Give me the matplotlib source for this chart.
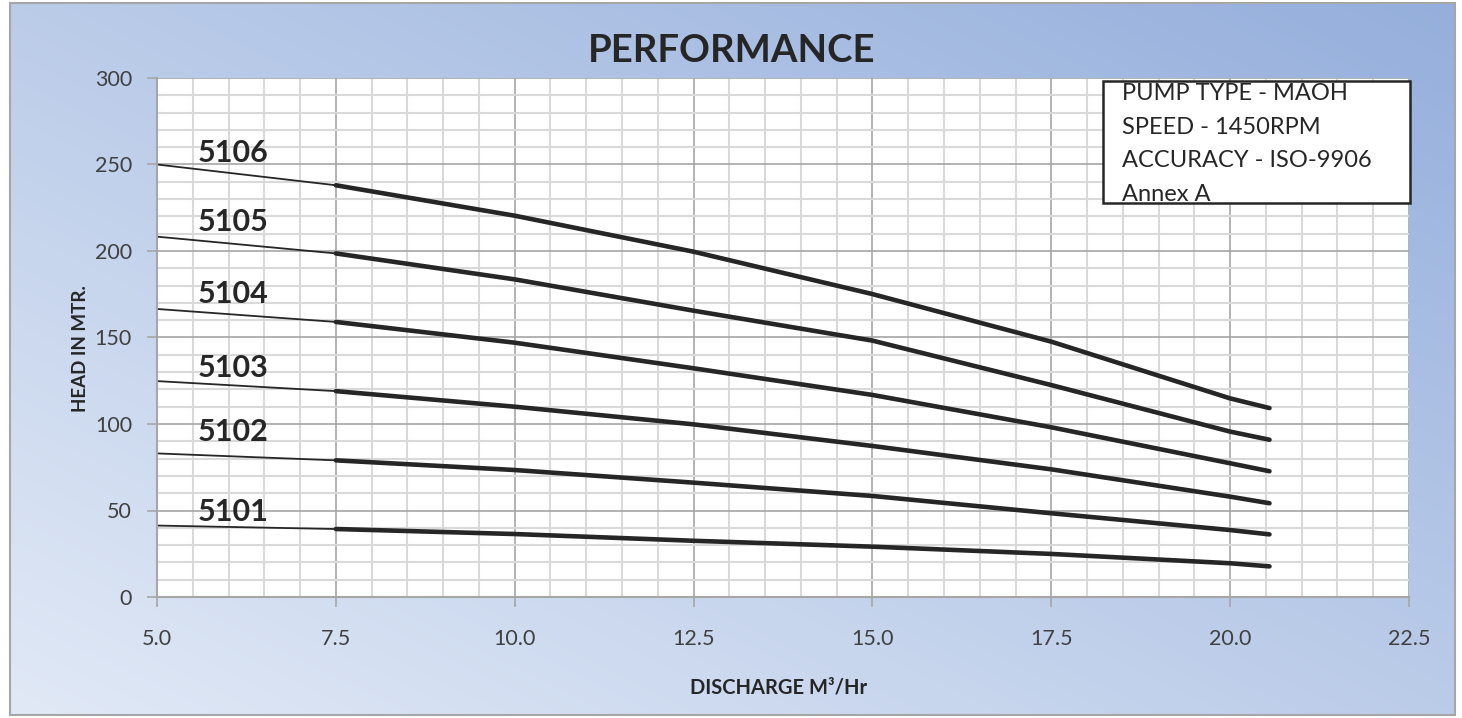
import numpy as np
import matplotlib
matplotlib.use('Agg')
import matplotlib.pyplot as plt
from matplotlib.patches import Rectangle
from matplotlib.ticker import MultipleLocator, FormatStrFormatter

plt.rcParams['font.family'] = ['Lato', 'DejaVu Sans']

# Data
discharge = [5.0, 7.5, 10.0, 12.5, 15.0, 17.5, 20.0, 20.55]
models = ['5101', '5102', '5103', '5104', '5105', '5106']
heads = {
    '5101': [41.3, 39.3, 36.4, 32.5, 29.1, 24.9, 19.5, 17.7],
    '5102': [83.0, 79.0, 73.4, 66.1, 58.4, 48.4, 38.7, 36.2],
    '5103': [124.8, 119.0, 110.0, 99.8, 87.3, 73.8, 58.0, 54.2],
    '5104': [166.5, 159.0, 147.0, 132.2, 116.8, 98.1, 77.3, 72.7],
    '5105': [208.3, 198.6, 183.6, 165.5, 148.2, 122.5, 95.6, 90.9],
    '5106': [250.0, 238.0, 220.4, 199.6, 175.1, 147.6, 114.8, 109.2],
}
label_x = 5.57
label_y = {'5101': 49.3, '5102': 95.4, '5103': 132.2, '5104': 175.1, '5105': 216.5, '5106': 256.9}
info_lines = ['PUMP TYPE - MAOH', 'SPEED - 1450RPM', 'ACCURACY - ISO-9906', 'Annex A']

W, H = 1462, 718
fig = plt.figure(figsize=(W / 100, H / 100), dpi=100)
fig.patch.set_facecolor('white')

def fx(x):
    return x / W

def fy(y):
    return 1 - y / H

# Gradient background
bg = fig.add_axes([0, 0, 1, 1], zorder=-1)
bg.set_xlim(0, W)
bg.set_ylim(H, 0)
bg.axis('off')
gx, gy = np.meshgrid(np.linspace(0, 1, 300), np.linspace(0, 1, 150))
t = (gx + (1 - gy)) / 2
c0 = np.array([0xe1, 0xe9, 0xf6]) / 255
c1 = np.array([0x95, 0xaf, 0xdc]) / 255
img = c0[None, None, :] * (1 - t[..., None]) + c1[None, None, :] * t[..., None]
bg.imshow(img, extent=(10, 1455, 715, 3), aspect='auto', interpolation='bilinear')
bg.add_patch(Rectangle((10, 3), 1445, 712, fill=False, edgecolor='#a6a6a6', linewidth=1.5))

# Plot area
ax = fig.add_axes([fx(157), fy(597), fx(1409) - fx(157), fy(78) - fy(597)])
ax.set_facecolor('white')
ax.set_xlim(5, 22.5)
ax.set_ylim(0, 300)
ax.xaxis.set_major_locator(MultipleLocator(2.5))
ax.xaxis.set_minor_locator(MultipleLocator(0.5))
ax.yaxis.set_major_locator(MultipleLocator(50))
ax.yaxis.set_minor_locator(MultipleLocator(10))
ax.xaxis.set_major_formatter(FormatStrFormatter('%.1f'))
ax.set_axisbelow(True)
ax.grid(which='minor', color='#d9d9d9', linewidth=1.5)
ax.grid(which='major', color='#a6a6a6', linewidth=1.2)
for s in ['top', 'right']:
    ax.spines[s].set_visible(False)
for s in ['left', 'bottom']:
    ax.spines[s].set_color('#a6a6a6')
    ax.spines[s].set_linewidth(1.5)
ax.tick_params(which='major', length=7, width=1.2, color='#a6a6a6',
               labelsize=15.5, labelcolor='#404040')
ax.tick_params(axis='y', pad=11)
ax.tick_params(axis='x', pad=16)
ax.tick_params(which='minor', length=0)

for m in models:
    ax.plot(discharge[:2], heads[m][:2], color='#262626', linewidth=1.3)
    ax.plot(discharge[1:], heads[m][1:], color='#262626', linewidth=3.3,
            solid_capstyle='round', solid_joinstyle='round')
    ax.text(label_x, label_y[m], m, fontsize=22, fontweight='bold',
            color='#262626', ha='left', va='center')

# Titles and axis labels
fig.text(fx(732), fy(51), 'PERFORMANCE', fontsize=27.5, fontweight='bold',
         color='#262626', ha='center', va='center')
fig.text(fx(80), fy(349), 'HEAD IN MTR.', fontsize=13.5, fontweight='bold',
         color='#262626', ha='center', va='center', rotation=90)
fig.text(fx(779), fy(687), 'DISCHARGE M³/Hr', fontsize=14.5, fontweight='bold',
         color='#262626', ha='center', va='center')

# Info box
fig.patches.append(Rectangle((fx(1103), fy(203)), fx(1410) - fx(1103), fy(81) - fy(203),
                             transform=fig.transFigure, facecolor='white',
                             edgecolor='#262626', linewidth=1.8, zorder=5))
for i, line in enumerate(info_lines):
    fig.text(fx(1122), fy(94 + 33.4 * i), line, fontsize=17, color='#262626',
             ha='left', va='center', zorder=6)

fig.savefig('out.png', dpi=100)
